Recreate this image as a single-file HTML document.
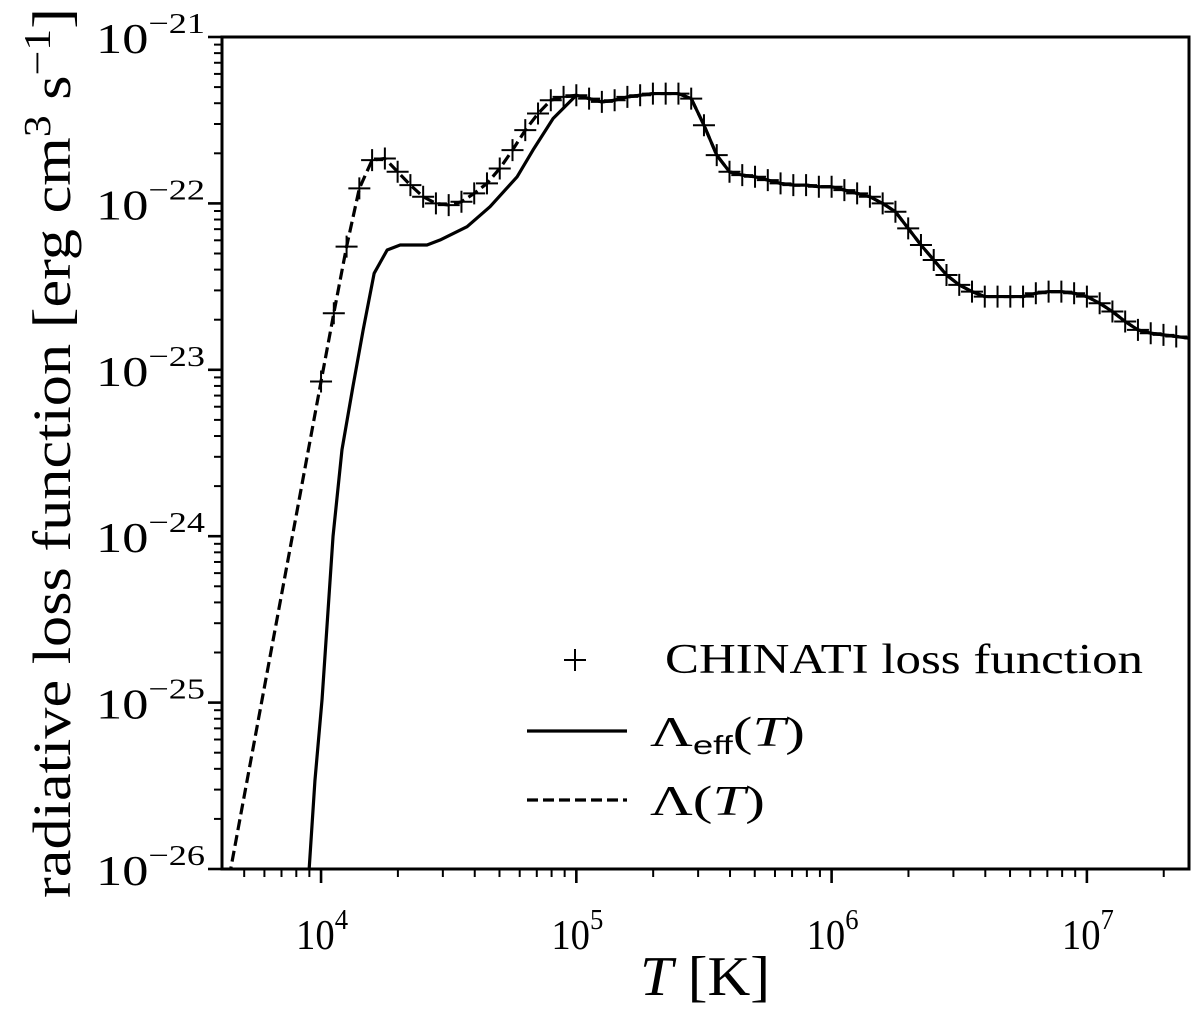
<!DOCTYPE html>
<html><head><meta charset="utf-8"><style>
html,body{margin:0;padding:0;background:#fff;}
svg{display:block;font-family:"Liberation Serif","DejaVu Serif",serif;}
</style></head><body>
<svg id="chart" width="1200" height="1021" viewBox="0 0 1200 1021" xmlns="http://www.w3.org/2000/svg"></svg>
<script>
// data (log10 T, log10 Lambda)
const markerLogT0 = 4.0;
const markerStep = 0.05;
const chinatiLogL = [-23.07,-22.66,-22.26,-21.91,-21.74,-21.73,-21.81,-21.89,-21.96,-22.00,-22.01,-21.99,-21.94,-21.88,-21.79,-21.68,-21.56,-21.46,-21.38,-21.36,-21.35,-21.37,-21.39,-21.38,-21.36,-21.35,-21.34,-21.34,-21.34,-21.37,-21.53,-21.71,-21.81,-21.83,-21.84,-21.86,-21.88,-21.89,-21.89,-21.90,-21.90,-21.92,-21.94,-21.96,-22.00,-22.05,-22.15,-22.25,-22.34,-22.43,-22.49,-22.53,-22.56,-22.56,-22.56,-22.56,-22.54,-22.53,-22.53,-22.54,-22.56,-22.60,-22.65,-22.71,-22.76,-22.78,-22.79,-22.80];
const lambdaLowLogT = [3.64];
const lambdaLowLogL = [-26.05];
const lambdaEndLogT = [7.40];
const lambdaEndLogL = [-22.81];
const effLogT = [3.953,3.976,4.004,4.047,4.082,4.125,4.165,4.208,4.259,4.31,4.415,4.466,4.572,4.662,4.768,4.83,4.909];
const effLogL = [-26.01,-25.47,-24.98,-24.0,-23.48,-23.10,-22.76,-22.42,-22.28,-22.25,-22.25,-22.22,-22.14,-22.02,-21.84,-21.68,-21.49];
const effJoinIndex = 20;
const xTickExps = [4,5,6,7];
const yTickExps = [-21,-22,-23,-24,-25,-26];

const L=222,R=1189,T=37,B=869;
const xMin=3.612,xMax=7.40,yMin=-26,yMax=-21;
const sx=v=>L+(v-xMin)/(xMax-xMin)*(R-L);
const sy=v=>B-(v-yMin)/(yMax-yMin)*(B-T);
const NS="http://www.w3.org/2000/svg";
const svg=document.getElementById('chart');
function mk(tag,attrs,parent){const e=document.createElementNS(NS,tag);for(const k in attrs)e.setAttribute(k,attrs[k]);(parent||svg).appendChild(e);return e;}

const clip=mk('clipPath',{id:'pc'});mk('rect',{x:L,y:T,width:R-L,height:B-T},clip);
const plot=mk('g',{'clip-path':'url(#pc)'});



const mLogT=chinatiLogL.map((_,i)=>markerLogT0+i*markerStep);
let dpts=[[lambdaLowLogT[0],lambdaLowLogL[0]]].concat(mLogT.map((t,i)=>[t,chinatiLogL[i]])).concat([[lambdaEndLogT[0],lambdaEndLogL[0]]]);
const dl=mk('polyline',{points:dpts.map(p=>sx(p[0])+','+sy(p[1])).join(' '),fill:'none',stroke:'#000','stroke-width':3.2,'stroke-dasharray':'11,5','stroke-linejoin':'round'},plot);


let spts=effLogT.map((t,i)=>[t,effLogL[i]]);
for(let i=effJoinIndex;i<mLogT.length;i++)spts.push([mLogT[i],chinatiLogL[i]]);
spts.push([lambdaEndLogT[0],lambdaEndLogL[0]]);
const sl=mk('polyline',{points:spts.map(p=>sx(p[0])+','+sy(p[1])).join(' '),fill:'none',stroke:'#000','stroke-width':3.2,'stroke-linejoin':'round'},plot);


mLogT.forEach((t,i)=>{const x=sx(t),y=sy(chinatiLogL[i]);
 const p=mk('path',{d:`M${x-11},${y}H${x+11}M${x},${y-11}V${y+11}`,stroke:'#000','stroke-width':2},plot);
 
 });

const fr=mk('rect',{x:L,y:T,width:R-L,height:B-T,fill:'none',stroke:'#000','stroke-width':3});



const xt=mk('g',{});


for(let e=3;e<=7;e++)for(let m=1;m<10;m++){const v=e+Math.log10(m);if(v<xMin-1e-6||v>xMax)continue;const x=sx(v);
 mk('line',{x1:x,x2:x,y1:B,y2:B+(m==1?14:8),stroke:'#000','stroke-width':m==1?2.6:2},xt);}
xTickExps.forEach(e=>{const t=mk('text',{x:sx(e)-25,y:B+80,'font-size':42,textLength:52,lengthAdjust:'spacingAndGlyphs'},xt);t.textContent='10';
 
 
 const s=mk('tspan',{dy:-20,'font-size':29},t);s.textContent=String(e);});
const yt=mk('g',{});


for(let e=-27;e<=-21;e++)for(let m=1;m<10;m++){const v=e+Math.log10(m);if(v<yMin-1e-6||v>yMax+1e-6)continue;const y=sy(v);
 mk('line',{x1:L,x2:L-(m==1?14:8),y1:y,y2:y,stroke:'#000','stroke-width':m==1?2.6:2},yt);}
yTickExps.forEach(e=>{const t=mk('text',{x:96,y:sy(e)+16,'font-size':42,textLength:109,lengthAdjust:'spacingAndGlyphs'},yt);t.textContent='10';
 
 
 const s=mk('tspan',{dy:-20,'font-size':29},t);s.textContent='\u2212'+String(-e);});

const xtitle=mk('text',{x:640,y:995,'font-size':56,textLength:130,lengthAdjust:'spacingAndGlyphs'});


xtitle.innerHTML='<tspan font-style="italic">T</tspan> [K]';
const ytitle=mk('text',{x:-445,y:0,'font-size':54,textLength:890,lengthAdjust:'spacingAndGlyphs',transform:'translate(70,453) rotate(-90)'});


ytitle.innerHTML='radiative loss function [erg cm<tspan dy="-20" font-size="38">3</tspan><tspan dy="20"> s</tspan><tspan dy="-20" font-size="38">\u22121</tspan><tspan dy="20">]</tspan>';

const lg=mk('g',{});


mk('path',{d:'M564,660H586M575,649V671',stroke:'#000','stroke-width':2},lg);
let t1=mk('text',{x:665,y:673,'font-size':42,textLength:478,lengthAdjust:'spacingAndGlyphs'},lg);t1.textContent='CHINATI loss function';


mk('line',{x1:527,x2:627,y1:731,y2:731,stroke:'#000','stroke-width':3.2},lg);
let t2=mk('text',{x:650,y:746,'font-size':42,textLength:155,lengthAdjust:'spacingAndGlyphs'},lg);
t2.innerHTML='Λ<tspan dy="8" font-size="26" font-family="Liberation Sans, sans-serif">eff</tspan><tspan dy="-8">(<tspan font-style="italic">T</tspan>)</tspan>';


mk('line',{x1:527,x2:627,y1:800,y2:800,stroke:'#000','stroke-width':3.2,'stroke-dasharray':'11,5'},lg);
let t3=mk('text',{x:650,y:815,'font-size':42,textLength:115,lengthAdjust:'spacingAndGlyphs'},lg);
t3.innerHTML='Λ(<tspan font-style="italic">T</tspan>)';


</script>
</body></html>
